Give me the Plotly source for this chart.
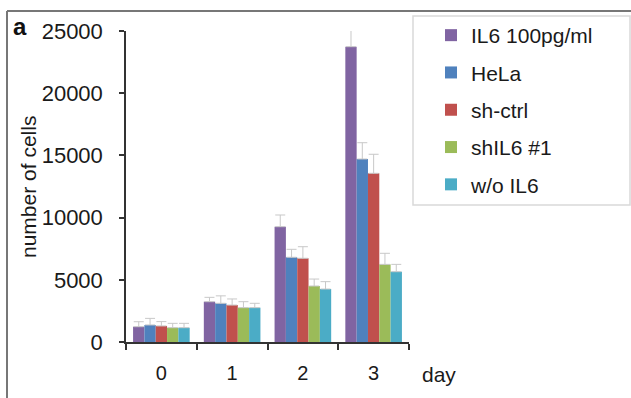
import plotly.graph_objects as go

days = ["0", "1", "2", "3"]
series_names = ["IL6 100pg/ml", "HeLa", "sh-ctrl", "shIL6 #1", "w/o IL6"]
colors = ["#8064A2", "#4F81BD", "#C0504D", "#9BBB59", "#4BACC6"]

il6_100 = [1230, 3240, 9270, 23740]
hela = [1370, 3110, 6810, 14710]
sh_ctrl = [1290, 2970, 6730, 13560]
shil6_1 = [1150, 2760, 4500, 6240]
wo_il6 = [1150, 2760, 4260, 5650]

il6_100_err = [400, 350, 940, 1340]
hela_err = [530, 600, 640, 1310]
sh_ctrl_err = [350, 490, 930, 1530]
shil6_1_err = [350, 480, 560, 890]
wo_il6_err = [350, 350, 590, 590]

values = [il6_100, hela, sh_ctrl, shil6_1, wo_il6]
errors = [il6_100_err, hela_err, sh_ctrl_err, shil6_1_err, wo_il6_err]

FONT = "Arial, Liberation Sans, sans-serif"

# pixel layout helpers
W, H = 631, 398
L, R, T, B = 126, 409, 31, 342

def px(x):
    return (x - L) / (R - L)

def py(y):
    return (B - y) / (B - T)

fig = go.Figure()
for i, (name, vals, errs, col) in enumerate(zip(series_names, values, errors, colors)):
    fig.add_trace(go.Bar(
        x=days, y=vals, name=name,
        marker=dict(color=col, line=dict(width=0)),
        error_y=dict(type="data", array=errs, arrayminus=[0] * len(errs),
                     symmetric=False, color="#c8c8c8", thickness=1, width=5),
        legendgroup=f"g{i}",
    ))

fig.update_layout(
    width=W, height=H,
    margin=dict(l=L, r=W - R, t=T, b=H - B, pad=0, autoexpand=False),
    paper_bgcolor="white", plot_bgcolor="white",
    barmode="group", bargap=0.2, bargroupgap=0,
    font=dict(family=FONT, color="#1a1a1a"),
    showlegend=True,
    legend=dict(
        x=px(431), y=py(15), xanchor="left", yanchor="top",
        font=dict(size=21, family=FONT, color="#1a1a1a"),
        bgcolor="rgba(0,0,0,0)", borderwidth=0,
        tracegroupgap=7, itemsizing="constant", maxheight=500,
    ),
    xaxis=dict(
        showline=True, linecolor="#333", linewidth=1.5,
        ticks="outside", ticklen=6, tickcolor="#333", tickwidth=1.5,
        tickson="boundaries", tickfont=dict(size=20, family=FONT, color="#1a1a1a"),
        ticklabelstandoff=12, showgrid=False, zeroline=False,
    ),
    yaxis=dict(
        range=[0, 25000], dtick=5000, tickformat="d",
        showline=True, linecolor="#333", linewidth=1.5,
        ticks="outside", ticklen=5, tickcolor="#333", tickwidth=1.5,
        tickfont=dict(size=22, family=FONT, color="#1a1a1a"),
        ticklabelstandoff=12, showgrid=False, zeroline=False,
    ),
    shapes=[
        # outer frame (top & left)
        dict(type="line", xref="paper", yref="paper", x0=px(7), x1=px(640), y0=py(11), y1=py(11),
             line=dict(color="#777", width=2)),
        dict(type="line", xref="paper", yref="paper", x0=px(7), x1=px(7), y0=py(11), y1=py(410),
             line=dict(color="#777", width=2)),
        # legend box
        dict(type="rect", xref="paper", yref="paper", x0=px(413), x1=px(630), y0=py(205), y1=py(16),
             line=dict(color="#d9d9d9", width=1.5)),
    ],
    annotations=[
        dict(text="number of cells", xref="paper", yref="paper", x=px(28), y=py(187),
             textangle=-90, showarrow=False, xanchor="center", yanchor="middle",
             font=dict(size=21, family=FONT, color="#1a1a1a")),
        dict(text="<b>a</b>", xref="paper", yref="paper", x=px(20), y=py(27),
             showarrow=False, xanchor="center", yanchor="middle",
             font=dict(size=24, family=FONT, color="#111")),
        dict(text="day", xref="paper", yref="paper", x=px(439), y=py(374),
             showarrow=False, xanchor="center", yanchor="middle",
             font=dict(size=21, family=FONT, color="#1a1a1a")),
    ],
)

fig.write_html(
    "out.html",
    config={"displayModeBar": False},
    post_script="document.body.style.margin='0';document.body.style.overflow='hidden';",
)
